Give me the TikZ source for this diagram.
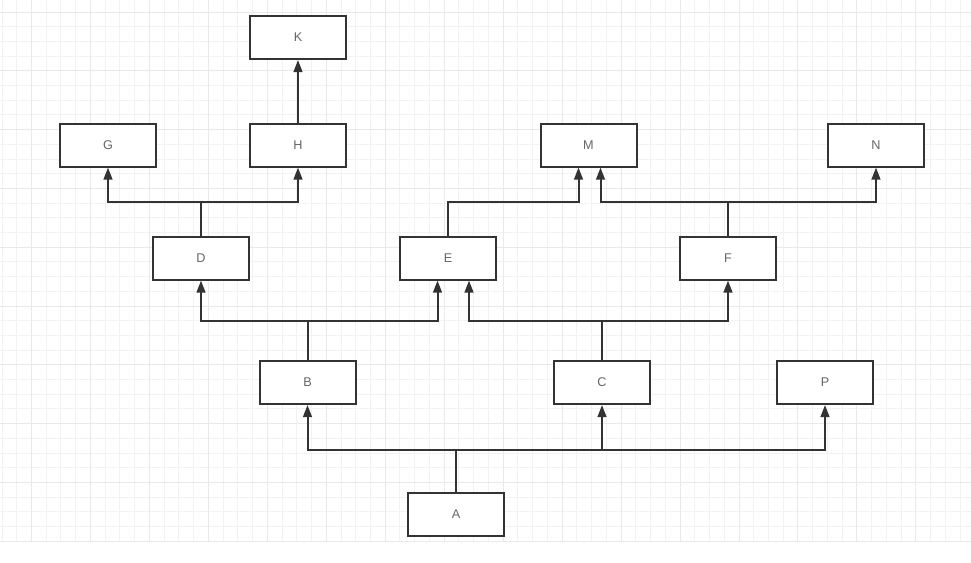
\documentclass[tikz,border=0pt]{standalone}
\usepackage{fontspec}
\setmainfont{Liberation Sans}
\usetikzlibrary{arrows.meta,calc}
\definecolor{ln}{HTML}{333333}
\definecolor{tx}{HTML}{666666}
\definecolor{gminor}{HTML}{F2F2F2}
\definecolor{gmajor}{HTML}{E9E9E9}
\begin{document}
\begin{tikzpicture}[x=0.75pt,y=-0.75pt,
  box/.style={draw=ln,line width=1.5pt,fill=white,minimum width=72pt,minimum height=32.25pt,inner sep=0pt,text=tx,font=\fontsize{9.5}{10}\selectfont},
  conn/.style={draw=ln,line width=1.5pt},
  arr/.style={conn,-{Triangle[length=9pt,width=6.5pt]}},
  gridminor/.style={draw=gminor,line width=0.75pt},
  gridmajor/.style={draw=gmajor,line width=0.75pt}]
\useasboundingbox (0,0) rectangle (971,562);
\fill[white] (0,0) rectangle (971,562);
% grid
\foreach \k in {0,...,65} {\draw[gridminor] ({2+\k*14.74},0) -- ({2+\k*14.74},541.2);}
\foreach \k in {0,...,36} {\draw[gridminor] (0,{12+\k*14.7}) -- (971,{12+\k*14.7});}
\foreach \k in {2,6,...,62} {\draw[gridmajor] ({2+\k*14.74},0) -- ({2+\k*14.74},541.2);}
\foreach \k in {0,4,...,36} {\draw[gridmajor] (0,{12+\k*14.7}) -- (971,{12+\k*14.7});}
% nodes
\node[box] (K) at (298,37.5) {K};
\node[box] (G) at (108,145) {G};
\node[box] (H) at (298,145) {H};
\node[box] (M) at (588.5,145) {M};
\node[box] (N) at (876,145) {N};
\node[box] (D) at (201,258) {D};
\node[box] (E) at (448,258) {E};
\node[box] (F) at (728,258) {F};
\node[box] (B) at (307.5,382.5) {B};
\node[box] (C) at (602,382.5) {C};
\node[box] (P) at (825,382.5) {P};
\node[box] (A) at (456,514.5) {A};
% bus points
\coordinate (ab) at (456,450);
\coordinate (bb) at (307.5,321);
\coordinate (cb) at (602,321);
\coordinate (db) at (201,202);
\coordinate (eb) at (448,202);
\coordinate (fb) at (728,202);
% connectors
\draw[arr] (A.north) -- (ab) -| (B.south);
\draw[arr] (A.north) -- (ab) -| (C.south);
\draw[arr] (A.north) -- (ab) -| (P.south);
\draw[arr] (B.north) -- (bb) -| (D.south);
\draw[arr] (B.north) -- (bb) -| ($(E.south)+(-10.5,0)$);
\draw[arr] (C.north) -- (cb) -| ($(E.south)+(21,0)$);
\draw[arr] (C.north) -- (cb) -| (F.south);
\draw[arr] (D.north) -- (db) -| (G.south);
\draw[arr] (D.north) -- (db) -| (H.south);
\draw[arr] (E.north) -- (eb) -| ($(M.south)+(-10,0)$);
\draw[arr] (F.north) -- (fb) -| ($(M.south)+(12,0)$);
\draw[arr] (F.north) -- (fb) -| (N.south);
\draw[arr] (H.north) -- (K.south);
\end{tikzpicture}
\end{document}
